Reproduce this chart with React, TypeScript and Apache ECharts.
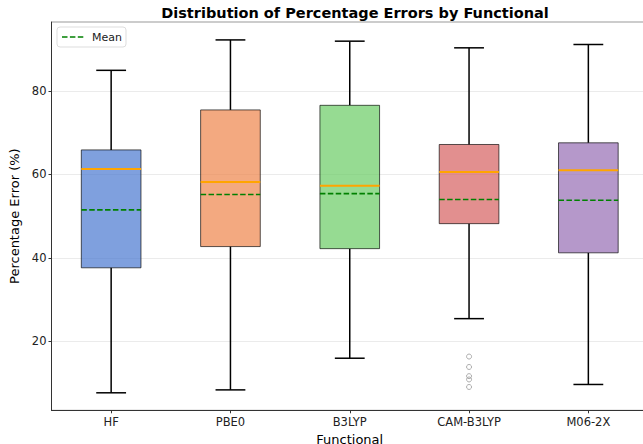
import React, { useEffect, useRef } from "react";
import * as echarts from "echarts";

const categories = ["HF", "PBE0", "B3LYP", "CAM-B3LYP", "M06-2X"];
const whiskerLow = [7.6, 8.3, 15.9, 25.4, 9.6];
const q1 = [37.6, 42.7, 42.2, 48.2, 41.2];
const median = [61.3, 58.2, 57.3, 60.6, 61.0];
const q3 = [65.9, 75.5, 76.6, 67.2, 67.6];
const whiskerHigh = [85.0, 92.3, 92.0, 90.4, 91.2];
const means = [51.5, 55.2, 55.4, 54.0, 53.8];
const outliers: [string, number][] = [
  ["CAM-B3LYP", 16.3],
  ["CAM-B3LYP", 13.8],
  ["CAM-B3LYP", 11.6],
  ["CAM-B3LYP", 10.8],
  ["CAM-B3LYP", 9.0],
];
const yTicks = [20, 40, 60, 80];
const boxColors = [
  "rgba(72,120,208,0.7)",
  "rgba(238,133,74,0.7)",
  "rgba(106,204,100,0.7)",
  "rgba(214,95,95,0.7)",
  "rgba(149,108,180,0.7)",
];

const FONT = "DejaVu Sans";

export default function App() {
  const ref = useRef<HTMLDivElement>(null);
  useEffect(() => {
    if (!ref.current) return;
    const chart = echarts.init(ref.current, null, { renderer: "svg" });
    const boxData = categories.map((c, i) => [
      i,
      whiskerLow[i],
      q1[i],
      median[i],
      q3[i],
      whiskerHigh[i],
      means[i],
    ]);
    const renderItem = (params: any, api: any) => {
      const i = api.value(0);
      const bw = api.size([1, 0])[0];
      const boxW = bw * 0.5;
      const capW = bw * 0.25;
      const cx = api.coord([i, 0])[0];
      const y = (v: number) => api.coord([i, v])[1];
      const lo = y(api.value(1));
      const b1 = y(api.value(2));
      const md = y(api.value(3));
      const b3 = y(api.value(4));
      const hi = y(api.value(5));
      const mn = y(api.value(6));
      const black = { stroke: "#000", lineWidth: 1.5 };
      return {
        type: "group",
        children: [
          { type: "line", shape: { x1: cx, y1: lo, x2: cx, y2: b1 }, style: black },
          { type: "line", shape: { x1: cx, y1: b3, x2: cx, y2: hi }, style: black },
          { type: "line", shape: { x1: cx - capW / 2, y1: lo, x2: cx + capW / 2, y2: lo }, style: black },
          { type: "line", shape: { x1: cx - capW / 2, y1: hi, x2: cx + capW / 2, y2: hi }, style: black },
          {
            type: "rect",
            shape: { x: cx - boxW / 2, y: b3, width: boxW, height: b1 - b3 },
            style: { fill: boxColors[i], stroke: "rgba(0,0,0,0.65)", lineWidth: 1 },
          },
          {
            type: "line",
            shape: { x1: cx - boxW / 2, y1: md, x2: cx + boxW / 2, y2: md },
            style: { stroke: "#FFA500", lineWidth: 2 },
          },
          {
            type: "line",
            shape: { x1: cx - boxW / 2, y1: mn, x2: cx + boxW / 2, y2: mn },
            style: { stroke: "#008000", lineWidth: 1.6, lineDash: [5.5, 2.4] },
          },
        ],
      };
    };
    chart.setOption({
      animation: false,
      backgroundColor: "#fff",
      textStyle: { fontFamily: FONT },
      title: {
        text: "Distribution of Percentage Errors by Functional",
        left: 350,
        textAlign: "center",
        top: 0,
        textStyle: { fontFamily: FONT, fontSize: 14.5, fontWeight: "bold", color: "#000" },
      },
      grid: {
        left: 51.5,
        top: 22,
        width: 596.5,
        height: 388.3,
        outerBoundsMode: "none",
        containLabel: false,
        show: true,
        borderColor: "#999",
        borderWidth: 1,
        backgroundColor: "transparent",
      },
      xAxis: {
        type: "category",
        data: categories,
        boundaryGap: true,
        name: "Functional",
        nameLocation: "middle",
        nameGap: 21,
        nameTextStyle: { fontFamily: FONT, fontSize: 13, color: "#000" },
        axisLine: { lineStyle: { color: "#333", width: 1 } },
        axisTick: { show: true, alignWithLabel: true, length: 3, lineStyle: { color: "#333" } },
        axisLabel: { fontFamily: FONT, fontSize: 11.5, color: "#222", margin: 6 },
        splitLine: { show: false },
      },
      yAxis: {
        type: "value",
        min: 3.4,
        max: 96.6,
        name: "Percentage Error (%)",
        nameLocation: "middle",
        nameGap: 27,
        nameTextStyle: { fontFamily: FONT, fontSize: 13, color: "#000" },
        axisLine: { show: true, lineStyle: { color: "#333", width: 1 } },
        axisTick: { show: true, length: 3, customValues: yTicks, lineStyle: { color: "#333" } },
        axisLabel: { fontFamily: FONT, fontSize: 11.5, color: "#222", margin: 5, customValues: yTicks },
        splitLine: { show: true, lineStyle: { color: "#ebebeb", width: 1 } },
      },
      series: [
        {
          type: "custom",
          name: "boxes",
          renderItem,
          data: boxData,
          encode: { x: 0, y: [1, 2, 3, 4, 5, 6] },
          z: 3,
        },
        {
          type: "scatter",
          name: "outliers",
          data: outliers,
          symbol: "circle",
          symbolSize: 5,
          itemStyle: { color: "transparent", borderColor: "#999", borderWidth: 1 },
          z: 4,
        },
      ],
      graphic: [
        {
          type: "rect",
          shape: { x: 57, y: 27, width: 69, height: 20, r: 3 },
          style: { fill: "rgba(255,255,255,0.8)", stroke: "#ddd", lineWidth: 1 },
          z: 10,
        },
        {
          type: "line",
          shape: { x1: 62, y1: 37, x2: 84, y2: 37 },
          style: { stroke: "#008000", lineWidth: 1.6, lineDash: [5.5, 2.4] },
          z: 11,
        },
        {
          type: "text",
          x: 92,
          y: 37,
          style: {
            text: "Mean",
            fontFamily: FONT,
            fontSize: 11,
            fill: "#222",
            verticalAlign: "middle",
          },
          z: 11,
        },
      ],
    });
    return () => chart.dispose();
  }, []);
  return (
    <div
      ref={ref}
      style={{ position: "fixed", left: 0, top: 0, width: 643, height: 444 }}
    />
  );
}
